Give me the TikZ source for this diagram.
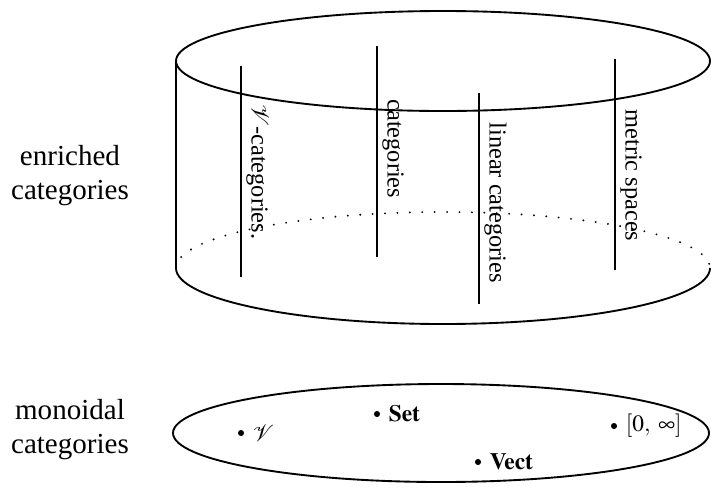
\documentclass[tikz,border=0pt]{standalone}
\usepackage{mathptmx}
\usepackage{fontspec}
\setmainfont{Liberation Serif}
\usepackage{tikz}

\begin{document}
\begin{tikzpicture}[x=0.015cm,y=-0.015cm,
  rim/.style={thick},
  hidden/.style={line width=0.9pt,line cap=round,dash pattern=on 0pt off 5.3pt},
  fibre/.style={thick},
  fibrelabel/.style={rotate=-90,anchor=south west,inner sep=0pt,
    font=\fontsize{10.4}{12.5}\selectfont},
  sidelabel/.style={align=center,font=\fontsize{12.4}{14.5}\selectfont},
  dot/.style={circle,fill,inner sep=0pt,minimum size=2.6pt,label distance=1.2pt}]
  \useasboundingbox (0,0) rectangle (711,494);
  % Cylinder of enriched categories
  \draw[rim] (443,61) ellipse [x radius=267,y radius=50];
  \draw[rim] (176,61) -- (176,268);
  \draw[rim] (176,268) arc[start angle=180,end angle=0,x radius=267,y radius=56];
  \draw[hidden] (176,268) arc[start angle=180,end angle=360,x radius=267,y radius=56];
  % Fibres
  \foreach \x/\top/\ylab/\name/\txt in {
      241/66/104/fibV/{$\mathcal{V}$-categories.},
      377/46/99/fibSet/{categories},
      479/93/122/fibVect/{linear categories},
      615/59/109/fibInf/{metric spaces}} {
    \draw[fibre] (\x,\top) -- (\x,\top+211);
    \node[fibrelabel] (\name) at (\x+5,\ylab) {\txt};
  }
  % Base of monoidal categories
  \draw[rim] (441,433) ellipse [x radius=268,y radius=49];
  \node[dot,label=right:{$\mathcal{V}$}] (ptV) at (241,433) {};
  \node[dot,label=right:{$\mathbf{Set}$}] (ptSet) at (377,414) {};
  \node[dot,label=right:{$\mathbf{Vect}$}] (ptVect) at (478,462) {};
  \node[dot,label=right:{$[0,\;\infty]$}] (ptInf) at (614,426) {};
  % Side labels
  \node[sidelabel] (enriched) at (70,176) {enriched\\categories};
  \node[sidelabel] (monoidal) at (70,430) {monoidal\\categories};
\end{tikzpicture}
\end{document}
